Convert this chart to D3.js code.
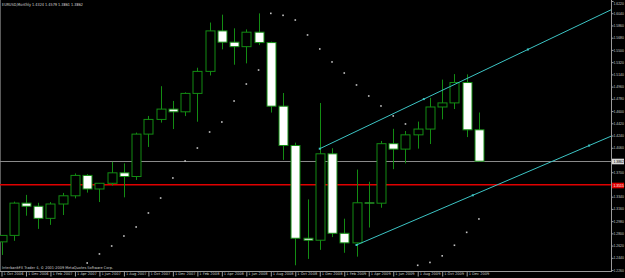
<html>
<head>
<meta http-equiv="content-type" content="text/html" charset="utf-8" />
<script src="https://cdnjs.cloudflare.com/ajax/libs/d3/7.8.5/d3.min.js"></script>
<style>
	body { margin: 0; background: #000; overflow: hidden; }
	svg text { font-family: "DejaVu Sans", "Liberation Sans", sans-serif; }
	svg .pl { font-family: "Liberation Sans", sans-serif; }
</style>
</head>
<body>
<div id="chart"></div>
<script type="text/javascript">

// EURUSD monthly, Oct 2006 .. Jan 2010
var months = ["Oct 2006","Nov 2006","Dec 2006","Jan 2007","Feb 2007","Mar 2007","Apr 2007","May 2007","Jun 2007","Jul 2007",
	"Aug 2007","Sep 2007","Oct 2007","Nov 2007","Dec 2007","Jan 2008","Feb 2008","Mar 2008","Apr 2008","May 2008",
	"Jun 2008","Jul 2008","Aug 2008","Sep 2008","Oct 2008","Nov 2008","Dec 2008","Jan 2009","Feb 2009","Mar 2009",
	"Apr 2009","May 2009","Jun 2009","Jul 2009","Aug 2009","Sep 2009","Oct 2009","Nov 2009","Dec 2009","Jan 2010"];
var opens  = [1.2675,1.2770,1.3245,1.3199,1.3021,1.3232,1.3353,1.3653,1.3453,1.3537,
	1.3691,1.3637,1.4261,1.4477,1.4629,1.4589,1.4860,1.5184,1.5780,1.5614,
	1.5548,1.5761,1.5608,1.4672,1.4093,1.2728,1.2699,1.3971,1.2801,1.2660,
	1.3250,1.3244,1.4120,1.4040,1.4250,1.4335,1.4660,1.4720,1.5020,1.4324];
var highs  = [1.2775,1.3267,1.3366,1.3250,1.3260,1.3395,1.3682,1.3672,1.3540,1.3852,
	1.3830,1.4283,1.4528,1.4966,1.4749,1.4875,1.5238,1.5903,1.6019,1.5818,
	1.5802,1.6038,1.5622,1.4866,1.4135,1.3300,1.4719,1.4053,1.3016,1.3739,
	1.3560,1.4160,1.4339,1.4307,1.4445,1.4794,1.5063,1.5144,1.5140,1.4579];
var lows   = [1.2482,1.2690,1.3060,1.2866,1.2925,1.3070,1.3315,1.3400,1.3261,1.3505,
	1.3330,1.3586,1.4072,1.4430,1.4335,1.4526,1.4443,1.5124,1.5508,1.5282,
	1.5302,1.5571,1.4578,1.3881,1.2330,1.2424,1.2557,1.2745,1.2514,1.2457,
	1.2886,1.3177,1.3745,1.3830,1.4047,1.4115,1.4478,1.4630,1.4217,1.3861];
var closes = [1.2770,1.3245,1.3199,1.3021,1.3232,1.3353,1.3653,1.3453,1.3537,1.3691,
	1.3637,1.4261,1.4477,1.4629,1.4589,1.4860,1.5184,1.5780,1.5614,1.5548,
	1.5761,1.5608,1.4672,1.4093,1.2728,1.2699,1.3971,1.2801,1.2660,1.3250,
	1.3244,1.4120,1.4040,1.4250,1.4335,1.4660,1.4720,1.5020,1.4324,1.3862];

// parabolic SAR dots (bar index, price)
var sarIndex = [7,8,9,10,11,12,13,14,15,16,17,18,19,20,21,22,23,24,25,26,27,28,29,30,31,32,33,34,35,36,37,38,39];
var sarValue = [1.2364,1.2497,1.2614,1.2761,1.2894,1.3100,1.3320,1.3615,1.3865,1.4056,1.4292,1.4439,1.4748,1.4998,1.5204,
	1.6038,1.6009,1.5940,1.5720,1.5514,1.5323,1.5160,1.4984,1.4822,1.4675,1.4528,1.4410,
	1.2330,1.2372,1.2469,1.2625,1.2815,1.3012];

// trend lines: two anchors each (bar index, price)
var upperLine = [[26, 1.4046], [38, 1.5077]];
var lowerLine = [[29, 1.2629], [38, 1.3322]];
var upperDots = [26, 34.5, 43];
var lowerDots = [29, 38.5, 48];

var bidPrice = 1.3862;
var redLevel = 1.3515;

var priceTicks = [1.6220,1.6040,1.5860,1.5680,1.5500,1.5320,1.5140,1.4960,1.4780,1.4600,1.4420,1.4240,
	1.4060,1.3880,1.3700,1.3520,1.3340,1.3160,1.2980,1.2800,1.2620,1.2440,1.2260];
var dateTickIndex = [0,2,4,6,8,10,12,14,16,18,20,22,24,26,28,30,32,34,36,38];
var dateTickLabels = ["1 Oct 2006","1 Dec 2006","1 Feb 2007","1 Apr 2007","1 Jun 2007","1 Aug 2007","1 Oct 2007",
	"1 Dec 2007","1 Feb 2008","1 Apr 2008","1 Jun 2008","1 Aug 2008","1 Oct 2008","1 Dec 2008","1 Feb 2009",
	"1 Apr 2009","1 Jun 2009","1 Aug 2009","1 Oct 2009","1 Dec 2009"];

var titleText = "EURUSD,Monthly  1.4324 1.4579 1.3861 1.3862";
var footText = "InterbankFX Trader 4, \u00a9 2001-2009 MetaQuotes Software Corp.";

var W = 625, H = 278;
var plotR = 611, plotB = 271;
var green = "#138c13", cyan = "#3cc4c4", axisCol = "#c8c8c8";

var x = d3.scaleLinear().domain([0, 49.79]).range([1.5, plotR]);
var y = d3.scaleLinear().domain([1.2260, 1.6220]).range([270.05, 1]);

var bars = months.map(function(m, i){
	return {m: m, i: i, o: opens[i], h: highs[i], l: lows[i], c: closes[i]};
});

var svg = d3.select("#chart").append("svg")
	.attr("width", W).attr("height", H)
	.style("display", "block");

svg.append("rect").attr("width", W).attr("height", H).attr("fill", "#000");

svg.append("clipPath").attr("id", "plot")
	.append("rect").attr("x", 0).attr("y", 0).attr("width", plotR).attr("height", plotB);

var g = svg.append("g").attr("clip-path", "url(#plot)");

// left border
g.append("line").attr("x1", 0.5).attr("x2", 0.5).attr("y1", 0).attr("y2", plotB)
	.attr("stroke", "#5a5a5a").attr("stroke-width", 1);

// horizontal levels
g.append("line").attr("x1", 0).attr("x2", plotR).attr("y1", y(redLevel)).attr("y2", y(redLevel))
	.attr("stroke", "#e00000").attr("stroke-width", 1.6);
g.append("line").attr("x1", 0).attr("x2", plotR).attr("y1", Math.round(y(bidPrice)) + 0.5).attr("y2", Math.round(y(bidPrice)) + 0.5)
	.attr("stroke", "#8a8a8a").attr("stroke-width", 1);

// candles
var cw = 9;
var candle = g.selectAll(".bar").data(bars).enter().append("g").attr("class", "bar");
candle.append("line")
	.attr("x1", function(d){ return Math.round(x(d.i)) + 0.5; })
	.attr("x2", function(d){ return Math.round(x(d.i)) + 0.5; })
	.attr("y1", function(d){ return y(d.h); })
	.attr("y2", function(d){ return y(d.l); })
	.attr("stroke", green).attr("stroke-width", 1);
candle.append("rect")
	.attr("x", function(d){ return Math.round(x(d.i)) + 0.5 - cw/2; })
	.attr("y", function(d){ return y(Math.max(d.o, d.c)); })
	.attr("width", cw)
	.attr("height", function(d){ return Math.max(0.3, Math.abs(y(d.o) - y(d.c))); })
	.attr("fill", function(d){ return d.c > d.o ? "#000" : "#fff"; })
	.attr("stroke", green).attr("stroke-width", 1);

// SAR dots
g.selectAll(".sar").data(sarIndex).enter().append("rect")
	.attr("x", function(d){ return x(d) - 0.8; })
	.attr("y", function(d, k){ return y(sarValue[k]) - 0.8; })
	.attr("width", 1.6).attr("height", 1.6)
	.attr("fill", "#c4c4c4");

// trend lines, extended to the right edge
function lineAt(pts, idx){
	var s = (pts[1][1] - pts[0][1]) / (pts[1][0] - pts[0][0]);
	return pts[0][1] + s * (idx - pts[0][0]);
}
[[upperLine, upperDots], [lowerLine, lowerDots]].forEach(function(t){
	var pts = t[0], endI = x.domain()[1];
	g.append("line")
		.attr("x1", x(pts[0][0])).attr("y1", y(pts[0][1]))
		.attr("x2", x(endI)).attr("y2", y(lineAt(pts, endI)))
		.attr("stroke", cyan).attr("stroke-width", 1);
	g.selectAll(null).data(t[1]).enter().append("rect")
		.attr("x", function(d){ return x(d) - 1; })
		.attr("y", function(d){ return y(lineAt(pts, d)) - 1; })
		.attr("width", 2).attr("height", 2)
		.attr("fill", cyan);
});

// axes
var yAxis = d3.axisRight(y).tickValues(priceTicks).tickSize(2).tickFormat(d3.format(".4f"));
var ya = svg.append("g").attr("transform", "translate(" + (plotR + 0.5) + ",0)").call(yAxis);
ya.select(".domain").attr("stroke", "#9a9a9a").attr("d", "M0,0V" + plotB);
ya.selectAll(".tick line").attr("stroke", "#9a9a9a");
ya.selectAll(".tick text").attr("x", 2).attr("class", "pl").attr("fill", axisCol)
	.style("font-size", "3.4px").attr("font-size", null)
	.attr("dy", function(d){ return d === priceTicks[0] ? "0.95em" : "0.32em"; });

var xAxis = d3.axisBottom(x).tickValues(dateTickIndex).tickSize(5)
	.tickFormat(function(d, k){ return dateTickLabels[k]; });
var xa = svg.append("g").attr("transform", "translate(0," + (plotB + 0.5) + ")").call(xAxis);
xa.select(".domain").attr("stroke", "#9a9a9a").attr("d", "M0,0H" + (plotR + 1));
xa.selectAll(".tick line").attr("stroke", "#9a9a9a");
xa.selectAll(".tick text").attr("text-anchor", "start").attr("x", 1.5).attr("y", 1.4)
	.attr("fill", axisCol).style("font-size", "3.6px");

// price labels on the axis
function priceBox(p, fill, txt){
	var yy = Math.round(y(p)) + 0.5;
	svg.append("rect").attr("x", plotR + 1).attr("y", yy - 2.8).attr("width", W - plotR - 2).attr("height", 5.6)
		.attr("fill", fill);
	svg.append("text").attr("class", "pl").attr("x", plotR + 2.5).attr("y", yy + 1.2).attr("fill", txt)
		.style("font-size", "3.4px").text(d3.format(".4f")(p));
}
priceBox(bidPrice, "#d8d8d8", "#000");
priceBox(redLevel, "#e00000", "#fff");

// texts
svg.append("text").attr("x", 2).attr("y", 5.6).attr("fill", "#d8d8d8")
	.attr("textLength", 81).attr("lengthAdjust", "spacingAndGlyphs")
	.style("font-size", "4.2px").text(titleText);
svg.append("text").attr("x", 2).attr("y", 269.3).attr("fill", "#d0d0d0")
	.attr("textLength", 111).attr("lengthAdjust", "spacingAndGlyphs")
	.style("font-size", "3.8px").text(footText);

</script>
</body>
</html>
